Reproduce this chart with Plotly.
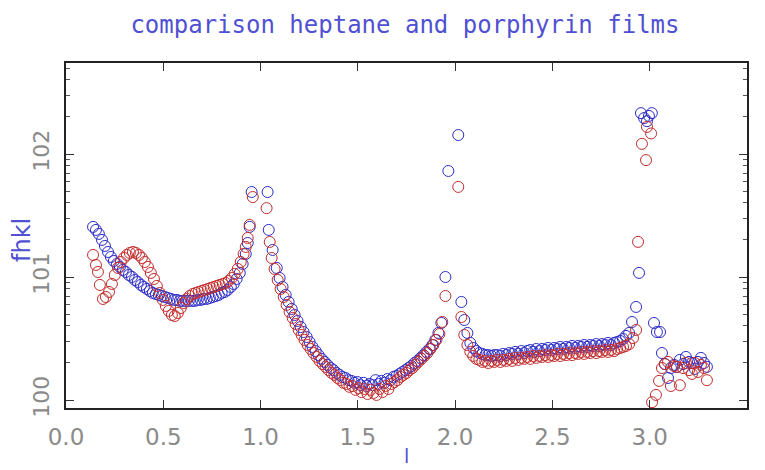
import plotly.graph_objects as go

# ---- data ----
heptane_l = [0.139,0.154,0.169,0.185,0.200,0.216,0.231,0.246,0.262,0.277,0.292,0.308,0.323,0.339,0.354,0.369,0.385,0.400,0.416,0.431,0.446,0.462,0.477,0.493,0.508,0.523,0.539,0.554,0.570,0.585,0.600,0.616,0.631,0.647,0.662,0.677,0.693,0.708,0.723,0.739,0.754,0.770,0.785,0.800,0.816,0.831,0.847,0.862,0.877,0.893,0.908,0.924,0.934,0.944,0.954,
             1.036,1.042,1.062,1.083,1.098,1.113,1.129,1.144,1.160,1.175,1.190,1.206,1.221,1.237,1.252,1.267,1.283,1.298,1.314,1.329,1.344,1.360,1.375,1.390,1.406,1.421,1.437,1.452,1.467,1.483,1.498,1.514,1.529,1.544,1.560,1.575,1.591,1.606,1.621,1.637,1.652,1.668,1.683,1.698,1.714,1.729,1.745,1.760,1.775,1.791,1.806,1.822,1.837,1.852,1.868,1.883,1.898,1.914,1.929,1.950,1.965,2.016,
             2.032,2.047,2.063,2.078,2.093,2.109,2.124,2.140,2.155,2.170,2.186,2.201,2.216,2.232,2.247,2.263,2.278,2.293,2.309,2.324,2.340,2.355,2.370,2.386,2.401,2.417,2.432,2.447,2.463,2.478,2.494,2.509,2.524,2.540,2.555,2.571,2.586,2.601,2.617,2.632,2.648,2.663,2.678,2.694,2.709,2.725,2.740,2.755,2.771,2.786,2.801,2.817,2.832,2.848,2.863,2.878,2.894,2.909,2.930,2.945,2.955,2.971,2.986,2.996,3.011,
             3.022,3.037,3.053,3.063,3.078,3.094,3.109,3.125,3.140,3.155,3.171,3.186,3.202,3.217,3.232,3.248,3.263,3.279,3.294]
heptane_f = [25.55,24.15,22.40,20.02,17.89,15.98,14.55,13.50,12.77,12.07,11.41,10.99,10.39,10.01,9.46,9.11,8.62,8.30,8.00,7.70,7.42,7.28,7.15,7.01,6.88,6.76,6.63,6.51,6.51,6.39,6.39,6.39,6.39,6.39,6.39,6.51,6.51,6.63,6.63,6.76,6.88,7.01,7.15,7.42,7.56,7.85,8.30,8.78,9.64,10.79,12.77,15.40,18.92,25.55,49.1,
             49.1,24.15,16.59,11.85,9.82,8.30,7.15,6.27,5.50,4.91,4.39,3.92,3.57,3.25,2.96,2.70,2.50,2.32,2.16,2.04,1.93,1.82,1.75,1.66,1.60,1.54,1.51,1.45,1.43,1.38,1.40,1.32,1.38,1.30,1.35,1.32,1.45,1.35,1.43,1.38,1.48,1.45,1.54,1.57,1.63,1.69,1.75,1.82,1.89,2.00,2.08,2.20,2.32,2.46,2.60,2.80,3.08,3.51,4.23,10.0,72.8,142.7,
             6.27,4.47,3.51,2.91,2.65,2.50,2.41,2.37,2.32,2.32,2.28,2.32,2.32,2.28,2.37,2.32,2.41,2.37,2.46,2.37,2.50,2.41,2.50,2.55,2.46,2.60,2.50,2.60,2.55,2.65,2.55,2.65,2.60,2.70,2.60,2.70,2.65,2.75,2.65,2.75,2.70,2.80,2.70,2.80,2.75,2.85,2.75,2.85,2.80,2.91,2.80,2.91,2.96,3.02,3.13,3.32,3.51,4.31,5.71,10.8,215,196,185,204,215,
             4.23,3.57,3.57,2.41,1.96,1.51,1.82,1.93,1.86,2.12,1.96,2.24,2.04,2.00,1.79,2.04,2.20,2.00,1.86]

porphyrin_l = [0.139,0.154,0.164,0.174,0.190,0.205,0.221,0.236,0.251,0.267,0.282,0.298,0.313,0.328,0.344,0.359,0.375,0.390,0.405,0.421,0.436,0.452,0.467,0.482,0.498,0.513,0.528,0.544,0.559,0.575,0.590,0.605,0.621,0.636,0.652,0.667,0.682,0.698,0.713,0.729,0.744,0.759,0.775,0.790,0.806,0.821,0.836,0.852,0.867,0.883,0.898,0.913,0.924,0.934,0.944,0.960,
               1.031,1.047,1.057,1.072,1.088,1.103,1.119,1.134,1.149,1.165,1.180,1.196,1.211,1.226,1.242,1.257,1.272,1.288,1.303,1.319,1.334,1.349,1.365,1.380,1.396,1.411,1.426,1.442,1.457,1.473,1.488,1.503,1.519,1.534,1.550,1.565,1.580,1.596,1.611,1.627,1.642,1.657,1.673,1.688,1.703,1.719,1.734,1.750,1.765,1.780,1.796,1.811,1.827,1.842,1.857,1.873,1.888,1.904,1.919,1.934,1.950,2.016,
               2.032,2.047,2.063,2.078,2.093,2.109,2.124,2.140,2.155,2.170,2.186,2.201,2.216,2.232,2.247,2.263,2.278,2.293,2.309,2.324,2.340,2.355,2.370,2.386,2.401,2.417,2.432,2.447,2.463,2.478,2.494,2.509,2.524,2.540,2.555,2.571,2.586,2.601,2.617,2.632,2.648,2.663,2.678,2.694,2.709,2.725,2.740,2.755,2.771,2.786,2.801,2.817,2.832,2.848,2.863,2.878,2.894,2.914,2.930,2.940,2.960,2.981,2.986,3.007,
               3.012,3.032,3.048,3.063,3.078,3.094,3.109,3.125,3.140,3.155,3.171,3.186,3.202,3.217,3.232,3.248,3.263,3.279,3.294]
porphyrin_f = [15.11,12.53,10.99,8.62,6.63,6.88,7.56,8.78,10.39,11.85,13.25,14.28,15.11,15.69,15.98,15.69,15.11,14.28,13.25,12.07,10.79,9.64,8.46,7.42,6.51,5.82,5.30,4.91,4.82,5.10,5.60,6.15,6.63,7.01,7.28,7.42,7.56,7.70,7.85,8.00,8.15,8.30,8.46,8.62,8.78,8.95,9.29,9.82,10.59,11.63,13.25,15.40,17.56,20.78,26.52,44.7,
               36.3,19.28,14.28,11.63,9.46,8.00,6.88,5.93,5.20,4.65,4.15,3.71,3.38,3.08,2.80,2.60,2.41,2.24,2.08,1.96,1.86,1.75,1.66,1.60,1.51,1.45,1.38,1.35,1.28,1.30,1.21,1.25,1.16,1.23,1.12,1.21,1.14,1.10,1.23,1.16,1.30,1.23,1.35,1.40,1.45,1.54,1.60,1.66,1.75,1.82,1.93,2.04,2.16,2.28,2.41,2.60,2.80,3.08,3.44,4.31,7.01,54.0,
               4.73,3.38,2.80,2.46,2.28,2.16,2.12,2.04,2.08,2.00,2.08,2.04,2.12,2.04,2.12,2.08,2.16,2.08,2.20,2.12,2.20,2.16,2.24,2.16,2.28,2.20,2.28,2.24,2.32,2.24,2.32,2.28,2.37,2.28,2.37,2.32,2.41,2.32,2.41,2.37,2.46,2.37,2.46,2.41,2.50,2.41,2.50,2.46,2.55,2.46,2.55,2.50,2.60,2.65,2.70,2.75,2.85,3.19,3.71,19.3,121,89.2,166,147,
               0.96,1.10,1.43,1.82,1.96,2.04,1.30,1.89,1.86,1.32,1.82,2.00,1.75,1.63,2.00,1.69,1.93,1.82,1.45]

x_ticks = [0.0, 0.5, 1.0, 1.5, 2.0, 2.5, 3.0, 3.5]
x_tick_text = ["0.0", "0.5", "1.0", "1.5", "2.0", "2.5", "3.0", "3.5"]
y_ticks = [1, 10, 100]
y_tick_text = ["100", "101", "102"]
y_minor = [2, 3, 4, 5, 6, 7, 8, 9, 20, 30, 40, 50, 60, 70, 80, 90, 200, 300, 400, 500]

BLUE = "rgb(45,45,200)"
RED = "rgb(195,45,45)"
GRAY = "#8a8a8a"
TITLE_BLUE = "rgb(80,80,210)"

fig = go.Figure()
fig.add_trace(go.Scatter(x=heptane_l, y=heptane_f, mode="markers", name="heptane",
                         marker=dict(symbol="circle-open", size=11, color=BLUE, line=dict(width=1, color=BLUE))))
fig.add_trace(go.Scatter(x=porphyrin_l, y=porphyrin_f, mode="markers", name="porphyrin",
                         marker=dict(symbol="circle-open", size=11, color=RED, line=dict(width=1, color=RED))))

# the page body has an 8px margin, so the figure is 8px smaller and margins shifted
fig.update_layout(
    width=757, height=462,
    margin=dict(l=58, r=18, t=55, b=62),
    paper_bgcolor="white", plot_bgcolor="white",
    showlegend=False,
    title=dict(text="comparison heptane and porphyrin films", x=0.5244, xanchor="center",
               y=0.963, yanchor="middle", xref="container", yref="container",
               font=dict(family="DejaVu Sans Mono", size=24, color=TITLE_BLUE)),
    xaxis=dict(range=[0, 3.5], tickmode="array", tickvals=x_ticks, ticktext=x_tick_text,
               ticks="inside", ticklen=8, tickwidth=1, tickcolor="#333",
               showline=True, linecolor="#222", linewidth=2, mirror="ticks",
               showgrid=False, zeroline=False, ticklabelstandoff=7,
               tickfont=dict(family="DejaVu Sans", size=23, color=GRAY)),
    yaxis=dict(type="log", range=[-0.065, 2.74], tickmode="array", tickvals=y_ticks, ticktext=y_tick_text,
               tickangle=-90, ticks="inside", ticklen=8, tickwidth=1, tickcolor="#333",
               showline=True, linecolor="#222", linewidth=2, mirror="ticks",
               showgrid=False, zeroline=False, ticklabelstandoff=6,
               minor=dict(tickvals=y_minor, ticks="inside", ticklen=4, tickcolor="#555", showgrid=False),
               tickfont=dict(family="DejaVu Sans", size=22, color=GRAY)),
    annotations=[
        dict(text="l", xref="paper", yref="paper", x=0.5, y=-0.14, showarrow=False,
             xanchor="center", yanchor="middle", font=dict(family="DejaVu Sans", size=19, color=TITLE_BLUE)),
        dict(text="fhkl", xref="paper", yref="paper", x=-0.0646, y=0.487, showarrow=False, textangle=-90,
             xanchor="center", yanchor="middle", font=dict(family="DejaVu Sans", size=24, color=TITLE_BLUE)),
    ],
)

fig.write_html("out.html")
